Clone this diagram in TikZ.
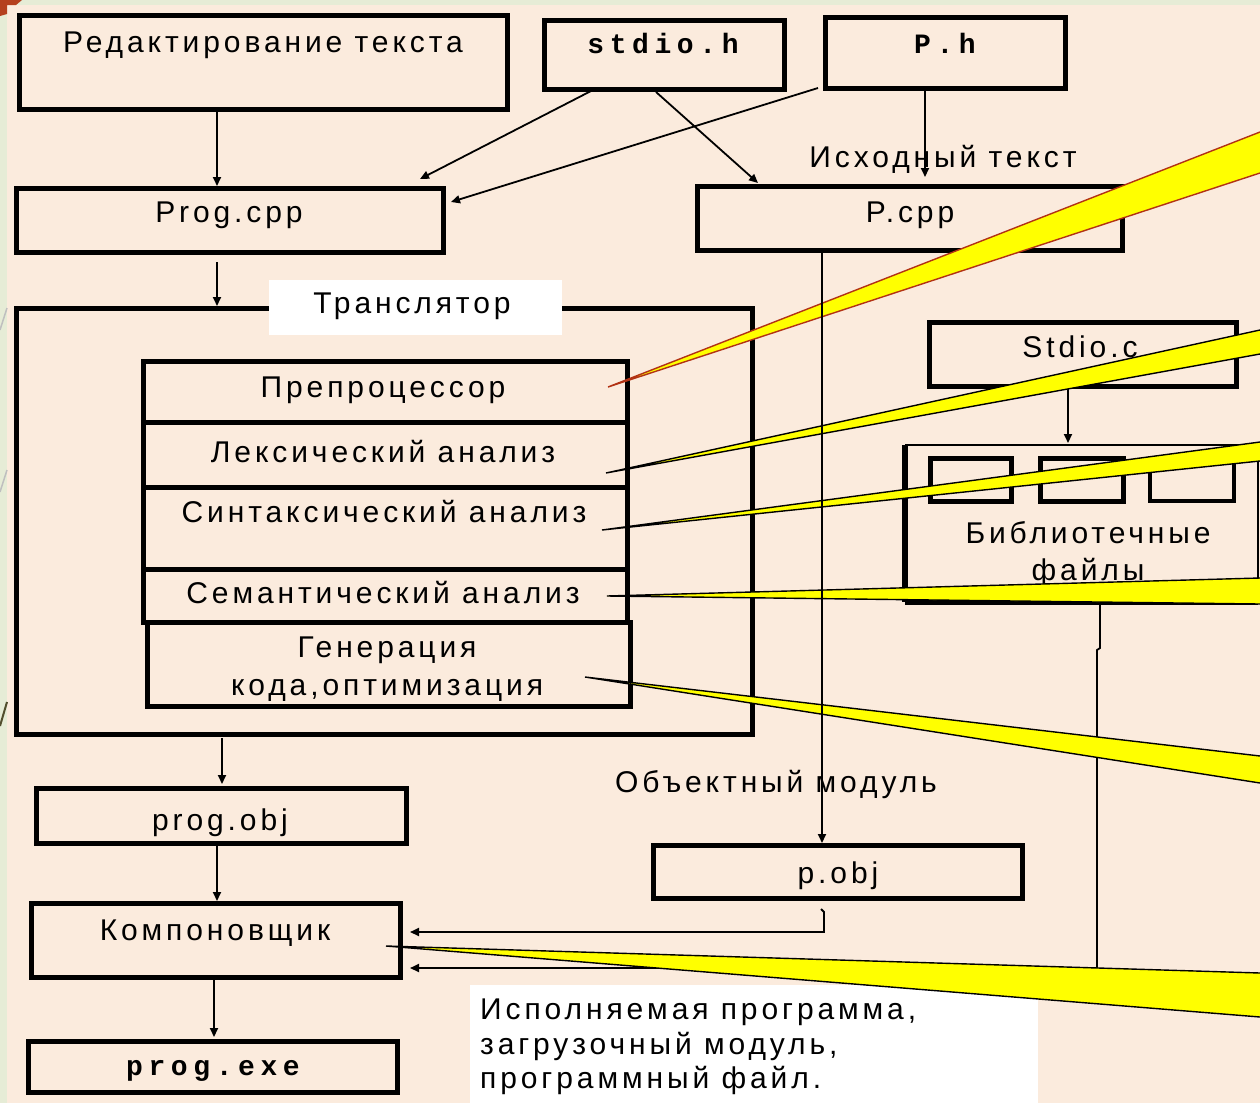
\documentclass[tikz,border=0pt]{standalone}
\usepackage{fontspec}
\setmainfont{Liberation Sans}
\newfontfamily\labfont{Liberation Sans}[LetterSpace=13]
\newfontfamily\codefont{Liberation Mono}[LetterSpace=20]
\usetikzlibrary{arrows.meta,calc}
\definecolor{bgpeach}{RGB}{251,235,221}
\definecolor{slidegreen}{RGB}{230,236,214}
\definecolor{slidered}{RGB}{181,64,30}
\definecolor{callred}{RGB}{178,50,20}
\definecolor{callyellow}{RGB}{255,255,0}
\begin{document}
\begin{tikzpicture}[x=1pt,y=-1pt,
  box/.style={draw, line width=5pt, rectangle, inner sep=0pt, outer sep=0pt, anchor=north west},
  lbl/.style={font=\labfont\fontsize{30}{36}\selectfont, inner sep=0pt, anchor=base},
  lblw/.style={font=\labfont\fontsize{30}{36}\selectfont, inner sep=0pt, anchor=base west},
  code/.style={font=\codefont\bfseries\fontsize{28}{34}\selectfont, inner sep=0pt, anchor=base},
  arr/.style={line width=1.8pt, -{Triangle[length=9pt,width=8pt]}},
  wire/.style={line width=1.8pt},
  callout/.style={fill=callyellow, draw=black, line width=1.4pt, line join=miter}
]
\useasboundingbox (0,0) rectangle (1260,1103);
% background
\fill[slidegreen] (0,0) rectangle (1260,1103);
\fill[bgpeach] (7,5) rectangle (1260,1103);
\fill[slidered] (0,0) -- (22,0) -- (16,5) -- (7,5) -- (7,14) -- (0,16) -- cycle;
\draw[line width=1.5pt, black!25] (0,330) -- (7,308);
\draw[line width=1.5pt, black!25] (0,492) -- (7,470);
\draw[line width=2pt, black!55!olive] (0,726) -- (7,702);

% boxes
\node[box, minimum width=488pt, minimum height=94pt] (redakt) at (19,15) {};
\node[box, minimum width=240pt, minimum height=69pt] (stdioh) at (544,20) {};
\node[box, minimum width=240pt, minimum height=71pt] (ph) at (825,17) {};
\node[box, minimum width=427pt, minimum height=64pt] (progcpp) at (16,188) {};
\node[box, minimum width=425pt, minimum height=64pt] (pcpp) at (697,186) {};
\node[box, minimum width=736pt, minimum height=426pt] (trans) at (16,308) {};
\node[box, minimum width=484pt, minimum height=61pt] (prep) at (143,361) {};
\node[box, minimum width=484pt, minimum height=65pt] (lex) at (143,422) {};
\node[box, minimum width=484pt, minimum height=82pt] (syn) at (143,487) {};
\node[box, minimum width=484pt, minimum height=53pt] (sem) at (143,569) {};
\node[box, minimum width=483pt, minimum height=84pt] (gen) at (147,622) {};
\node[box, minimum width=370pt, minimum height=55pt] (progobj) at (36,788) {};
\node[box, minimum width=369pt, minimum height=74pt] (kompon) at (31,903) {};
\node[box, minimum width=369pt, minimum height=51pt] (progexe) at (28,1041) {};
\node[box, minimum width=369pt, minimum height=53pt] (pobj) at (653,845) {};
\node[box, minimum width=307pt, minimum height=64pt] (stdioc) at (929,322) {};
% library box
\node[anchor=north west, minimum width=353pt, minimum height=157pt, inner sep=0pt, outer sep=0pt] (lib) at (905,445) {};
\draw[line width=2.5pt] (lib.north west) -- (lib.north east) -- (lib.south east);
\draw[line width=5pt] (lib.south west) -- (lib.south east);
\draw[line width=6pt] (lib.north west) -- (lib.south west);
\node[box, minimum width=81pt, minimum height=43pt] (lb1) at (930,458) {};
\node[box, minimum width=83pt, minimum height=43pt] (lb2) at (1040,458) {};
\node[box, line width=4pt, minimum width=84pt, minimum height=43pt] (lb3) at (1150,458) {};

% white label areas
\node[fill=white, anchor=north west, minimum width=293pt, minimum height=55pt, inner sep=0pt] (translbl) at (269,280) {};
\node[fill=white, anchor=north west, minimum width=568pt, minimum height=118pt, inner sep=0pt] (execlbl) at (470,985) {};

% texts
\node[lbl] (tredakt) at (263,52) {Редактирование текста};
\node[code] (tstdioh) at (663,53) {stdio.h};
\node[code] (tph) at (945,53) {P.h};
\node[lbl] (tprogcpp) at (229,222) {Prog.cpp};
\node[lbl] (tpcpp) at (910,222) {P.cpp};
\node[lbl] (tsrc) at (943,167) {Исходный текст};
\node[lbl] (ttrans) at (412,313) {Транслятор};
\node[lbl] (tprep) at (383,397) {Препроцессор};
\node[lbl] (tlex) at (383,462) {Лексический анализ};
\node[lbl] (tsyn) at (384,522) {Синтаксический анализ};
\node[lbl] (tsem) at (383,603) {Семантический анализ};
\node[lbl] (tgen1) at (387,657) {Генерация};
\node[lbl] (tgen2) at (387,695) {кода,оптимизация};
\node[lbl] (tstdioc) at (1080,357) {Stdio.c};
\node[lbl] (tlib1) at (1088,543) {Библиотечные};
\node[lbl] (tlib2) at (1088,580) {файлы};
\node[lbl] (tobjmod) at (776,792) {Объектный модуль};
\node[lbl] (tprogobj) at (220,830) {prog.obj};
\node[lbl] (tpobj) at (838,883) {p.obj};
\node[lbl] (tkompon) at (215,940) {Компоновщик};
\node[code] (tprogexe) at (213,1075) {prog.exe};
\node[lblw] (texec1) at (480,1019) {Исполняемая программа,};
\node[lblw] (texec2) at (480,1054) {загрузочный модуль,};
\node[lblw] (texec3) at (480,1088) {программный файл.};

% connectors
\coordinate (xa) at (217,0);
\draw[arr, shorten >=2pt] (redakt.south -| xa) -- (progcpp.north -| xa);
\coordinate (pt0) at ([xshift=-12.5pt,yshift=-10pt]progcpp.south);
\draw[arr, shorten >=2pt] (pt0) -- (pt0 |- trans.north);
\draw[arr] ([xshift=-73pt,yshift=-2pt]stdioh.south) -- ([xshift=190.5pt,yshift=9pt]progcpp.north);
\draw[arr] ([xshift=-7pt]ph.south west) -- ([xshift=8pt,yshift=-14pt]progcpp.north east);
\draw[arr] ([xshift=-8pt,yshift=-3pt]stdioh.south) -- ([xshift=-151.5pt,yshift=3pt]pcpp.north);
\coordinate (phs) at ([xshift=-20pt]ph.south);
\draw[arr, shorten >=9pt] (phs) -- (phs |- pcpp.north);
\coordinate (tr0) at ([xshift=-162pt,yshift=-4pt]trans.south);
\draw[arr, shorten >=4pt] (tr0) -- (tr0 |- progobj.north);
\coordinate (po0) at ([xshift=-4pt]progobj.south);
\draw[arr, shorten >=2pt] (po0) -- (po0 |- kompon.north);
\coordinate (ko0) at ([xshift=-1.5pt]kompon.south);
\draw[arr, shorten >=4pt] (ko0) -- (ko0 |- progexe.north);
\coordinate (sc0) at ([xshift=-14.5pt]stdioc.south);
\draw[arr, shorten >=2pt] (sc0) -- (sc0 |- lib.north);
\coordinate (pk1) at ([xshift=10pt,yshift=8pt]kompon.east);
\coordinate (pk2) at ([xshift=10pt,yshift=-28pt]kompon.east);
\draw[arr] ([xshift=-16.5pt,yshift=-11pt]pobj.south) -- ++(3,3) -- ++(0,20) -- (pk1);
\draw[arr] ([xshift=18.5pt,yshift=-2pt]lib.south) -- ++(0,44) -- ++(-3,2) -- ++(0,318) -- (pk2);

% callouts
\begin{scope}
\clip (0,0) rectangle (1260,1103);
\coordinate (c1) at (608,387);
\coordinate (c2) at (606,473);
\coordinate (c3) at (602,530);
\coordinate (c4) at (607,596);
\coordinate (c5) at (585,677);
\coordinate (c6) at (386,946);
\filldraw[callout, draw=callred] (c1) -- ($(c1)!1.2!(1260,132)$) -- ($(c1)!1.2!(1260,173)$) -- cycle;
\filldraw[callout] (c2) -- ($(c2)!1.2!(1260,330)$) -- ($(c2)!1.2!(1260,354)$) -- cycle;
\filldraw[callout] (c3) -- ($(c3)!1.2!(1260,442)$) -- ($(c3)!1.2!(1260,461)$) -- cycle;
\filldraw[callout] (c4) -- ($(c4)!1.2!(1260,578)$) -- ($(c4)!1.2!(1260,604)$) -- cycle;
\filldraw[callout] (c5) -- ($(c5)!1.2!(1260,756)$) -- ($(c5)!1.2!(1260,783)$) -- cycle;
\filldraw[callout] (c6) -- ($(c6)!1.2!(1260,973)$) -- ($(c6)!1.2!(1260,1017)$) -- cycle;
\end{scope}

\coordinate (pc0) at ([xshift=-87.5pt]pcpp.south);
\draw[arr, shorten >=2pt] (pc0) -- (pc0 |- pobj.north);
\end{tikzpicture}
\end{document}
